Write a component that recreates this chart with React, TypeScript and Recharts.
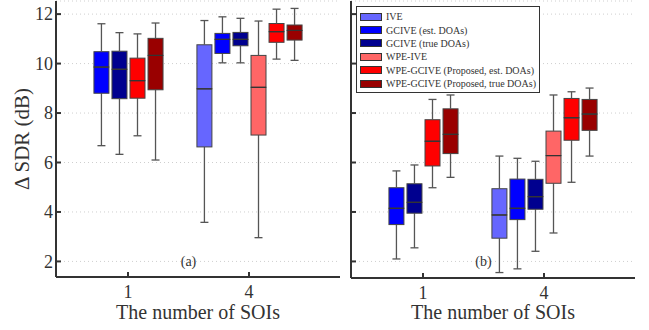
import React from 'react';
import { ComposedChart, Bar, XAxis, YAxis, CartesianGrid, Legend, ReferenceDot } from 'recharts';

const FONT = "'Liberation Serif', serif";

const categories = ['1', '4'];
const seriesNames = [
  'IVE',
  'GCIVE (est. DOAs)',
  'GCIVE (true DOAs)',
  'WPE-IVE',
  'WPE-GCIVE (Proposed, est. DOAs)',
  'WPE-GCIVE (Proposed, true DOAs)',
];
const seriesColors = ['#6666ff', '#0000ff', '#00008f', '#ff6666', '#ff0000', '#990000'];
const yTicks = [2, 4, 6, 8, 10, 12];

// Each entry: [min, q1, median, q3, max] for SOI = 1 and SOI = 4 (null: not shown)
type Stat = number[] | null;

// Panel (a)
const a_IVE: Stat[] = [null, [3.58, 6.63, 8.98, 10.76, 11.74]];
const a_GCIVE_est: Stat[] = [[6.68, 8.8, 9.86, 10.48, 11.61], [10.03, 10.41, 10.98, 11.22, 11.89]];
const a_GCIVE_true: Stat[] = [[6.33, 8.58, 9.77, 10.5, 11.25], [10.03, 10.72, 10.98, 11.26, 11.83]];
const a_WPE_IVE: Stat[] = [null, [2.96, 7.11, 9.04, 10.33, 11.72]];
const a_WPE_GCIVE_est: Stat[] = [[7.08, 8.6, 9.31, 10.22, 11.2], [10.18, 10.86, 11.29, 11.62, 12.2]];
const a_WPE_GCIVE_true: Stat[] = [[6.1, 8.94, 10.33, 11.02, 11.64], [10.13, 10.95, 11.34, 11.56, 12.23]];

// Panel (b)
const b_IVE: Stat[] = [null, [1.55, 2.94, 3.88, 4.94, 6.26]];
const b_GCIVE_est: Stat[] = [[2.1, 3.49, 4.15, 4.98, 5.66], [1.7, 3.69, 4.15, 5.33, 6.17]];
const b_GCIVE_true: Stat[] = [[2.55, 3.95, 4.39, 5.14, 5.9], [2.41, 4.11, 4.62, 5.32, 6.05]];
const b_WPE_IVE: Stat[] = [null, [3.15, 5.16, 6.28, 7.27, 8.73]];
const b_WPE_GCIVE_est: Stat[] = [[4.98, 5.86, 6.86, 7.73, 8.55], [5.2, 6.9, 7.81, 8.59, 8.86]];
const b_WPE_GCIVE_true: Stat[] = [[5.4, 6.36, 7.14, 8.17, 8.73], [6.26, 7.3, 7.96, 8.55, 9.01]];

const panelA = [a_IVE, a_GCIVE_est, a_GCIVE_true, a_WPE_IVE, a_WPE_GCIVE_est, a_WPE_GCIVE_true];
const panelB = [b_IVE, b_GCIVE_est, b_GCIVE_true, b_WPE_IVE, b_WPE_GCIVE_est, b_WPE_GCIVE_true];

const BOX_STEP = 0.149;

function buildRows(panel: Stat[][]) {
  const rows: any[] = [];
  categories.forEach((_, c) => {
    const present = panel.map((s, i) => ({ s: s[c], i })).filter((e) => e.s);
    const n = present.length;
    present.forEach((e, k) => {
      const [mn, q1, md, q3, mx] = e.s as number[];
      rows.push({
        x: c + 1 + (k - (n - 1) / 2) * BOX_STEP,
        color: seriesColors[e.i],
        base: mn,
        w1: q1 - mn,
        b1: md - q1,
        b2: q3 - md,
        w2: mx - q3,
      });
    });
  });
  return rows;
}

const WHISKER = '#555';
const BOXLINE = '#444';

const LowWhisker = (p: any) => {
  const cx = p.x + p.width / 2;
  const yb = p.y + p.height;
  return (
    <g>
      <line x1={cx} x2={cx} y1={p.y} y2={yb} stroke={WHISKER} strokeWidth={1.3} />
      <line x1={cx - 4} x2={cx + 4} y1={yb} y2={yb} stroke={WHISKER} strokeWidth={1.3} />
    </g>
  );
};
const HighWhisker = (p: any) => {
  const cx = p.x + p.width / 2;
  return (
    <g>
      <line x1={cx} x2={cx} y1={p.y} y2={p.y + p.height} stroke={WHISKER} strokeWidth={1.3} />
      <line x1={cx - 4} x2={cx + 4} y1={p.y} y2={p.y} stroke={WHISKER} strokeWidth={1.3} />
    </g>
  );
};
const LowBox = (p: any) => (
  <rect x={p.x} y={p.y} width={p.width} height={p.height} fill={p.payload.color} stroke={BOXLINE} strokeWidth={1} />
);
const HighBox = (p: any) => (
  <g>
    <rect x={p.x} y={p.y} width={p.width} height={p.height} fill={p.payload.color} stroke={BOXLINE} strokeWidth={1} />
    <line x1={p.x} x2={p.x + p.width} y1={p.y + p.height} y2={p.y + p.height} stroke="#333" strokeWidth={1.2} />
  </g>
);

const AXIS = { stroke: '#333', strokeWidth: 2 };
const X_DOMAIN = [0.405, 2.752];
const TICK_STYLE = { fontSize: 18, fill: '#333', style: { fontFamily: FONT } };

const LegendBox = () => (
  <div
    style={{
      width: 184,
      height: 87,
      boxSizing: 'border-box',
      border: '1px solid #333',
      background: '#fff',
      padding: '3px 3px',
      fontFamily: FONT,
      fontSize: 10,
      color: '#333',
    }}
  >
    {seriesNames.map((n, i) => (
      <div key={n} style={{ display: 'flex', alignItems: 'center', height: 13.4, whiteSpace: 'nowrap' }}>
        <span
          style={{
            display: 'inline-block',
            width: 20,
            height: 6,
            background: seriesColors[i],
            border: '1px solid #333',
            marginRight: 4,
          }}
        />
        {n}
      </div>
    ))}
  </div>
);

const YLabel = (props: any) => {
  const vb = props.viewBox;
  const x = vb.x + 22;
  const y = vb.y + vb.height / 2;
  return (
    <text
      x={x}
      y={y}
      transform={`rotate(-90, ${x}, ${y})`}
      textAnchor="middle"
      dominantBaseline="central"
      fontSize={21}
      fill="#333"
      style={{ fontFamily: FONT }}
    >
      Δ SDR (dB)
    </text>
  );
};

function Panel({
  rows,
  width,
  yWidth,
  margin,
  xHeight,
  yDomain,
  showYLabels,
  tag,
  legend,
}: any) {
  return (
    <ComposedChart width={width} height={330} data={rows} margin={margin} style={{ fontFamily: FONT }}>
      <CartesianGrid vertical={false} stroke="#cfcfcf" strokeDasharray="1 3" />
      <XAxis
        type="number"
        dataKey="x"
        domain={X_DOMAIN}
        allowDataOverflow
        ticks={[1, 2]}
        tickFormatter={(v: number) => categories[v - 1]}
        height={xHeight}
        axisLine={AXIS}
        tickLine={AXIS}
        tickSize={-5}
        tickMargin={13}
        tick={TICK_STYLE}
        label={{
          value: 'The number of SOIs',
          position: 'insideBottom',
          offset: 11,
          fontSize: 20,
          fill: '#333',
          style: { fontFamily: FONT },
        }}
      />
      <XAxis
        xAxisId="top"
        orientation="top"
        type="number"
        dataKey="x"
        domain={X_DOMAIN}
        allowDataOverflow
        ticks={[1, 2]}
        tickFormatter={() => ''}
        height={0}
        axisLine={AXIS}
        tickLine={AXIS}
        tickSize={-5}
      />
      <YAxis
        type="number"
        domain={yDomain}
        allowDataOverflow
        ticks={yTicks}
        width={yWidth}
        axisLine={AXIS}
        tickLine={AXIS}
        tickSize={-5}
        tickMargin={8}
        tickFormatter={showYLabels ? (v: number) => String(v) : () => ''}
        tick={TICK_STYLE}
        label={showYLabels ? YLabel : undefined}
      />
      <YAxis
        yAxisId="right"
        orientation="right"
        type="number"
        domain={yDomain}
        allowDataOverflow
        ticks={yTicks}
        width={0}
        axisLine={AXIS}
        tickLine={AXIS}
        tickSize={-5}
        tickFormatter={() => ''}
      />
      <Bar dataKey="base" stackId="s" barSize={15} fill="none" isAnimationActive={false} />
      <Bar dataKey="w1" stackId="s" barSize={15} shape={LowWhisker} isAnimationActive={false} />
      <Bar dataKey="b1" stackId="s" barSize={15} shape={LowBox} isAnimationActive={false} />
      <Bar dataKey="b2" stackId="s" barSize={15} shape={HighBox} isAnimationActive={false} />
      <Bar dataKey="w2" stackId="s" barSize={15} shape={HighWhisker} isAnimationActive={false} />
      <ReferenceDot
        x={1.5}
        y={2}
        r={1}
        fill="none"
        stroke="none"
        label={{ value: tag, position: 'center', fontSize: 14, fill: '#333', style: { fontFamily: FONT } }}
      />
      {legend ? (
        <Legend
          layout="vertical"
          align="center"
          verticalAlign="middle"
          wrapperStyle={{ top: 6, left: 11, width: 184, height: 87 }}
          content={() => <LegendBox />}
        />
      ) : null}
    </ComposedChart>
  );
}

export default function App() {
  const rowsA = buildRows(panelA);
  const rowsB = buildRows(panelB);
  return (
    <div
      style={{
        position: 'absolute',
        left: 0,
        top: 0,
        width: 649,
        height: 330,
        background: '#fff',
        fontFamily: FONT,
      }}
    >
      <div style={{ position: 'absolute', left: 0, top: 0 }}>
        <Panel
          rows={rowsA}
          width={345}
          yWidth={56}
          margin={{ top: 1, right: 5, left: 0, bottom: 0 }}
          xHeight={53}
          yDomain={[1.37, 12.53]}
          showYLabels
          tag="(a)"
        />
      </div>
      <div style={{ position: 'absolute', left: 345, top: 0 }}>
        <Panel
          rows={rowsB}
          width={304}
          yWidth={6}
          margin={{ top: 1, right: 14, left: 0, bottom: 0 }}
          xHeight={52}
          yDomain={[1.33, 12.53]}
          showYLabels={false}
          tag="(b)"
          legend
        />
      </div>
    </div>
  );
}
